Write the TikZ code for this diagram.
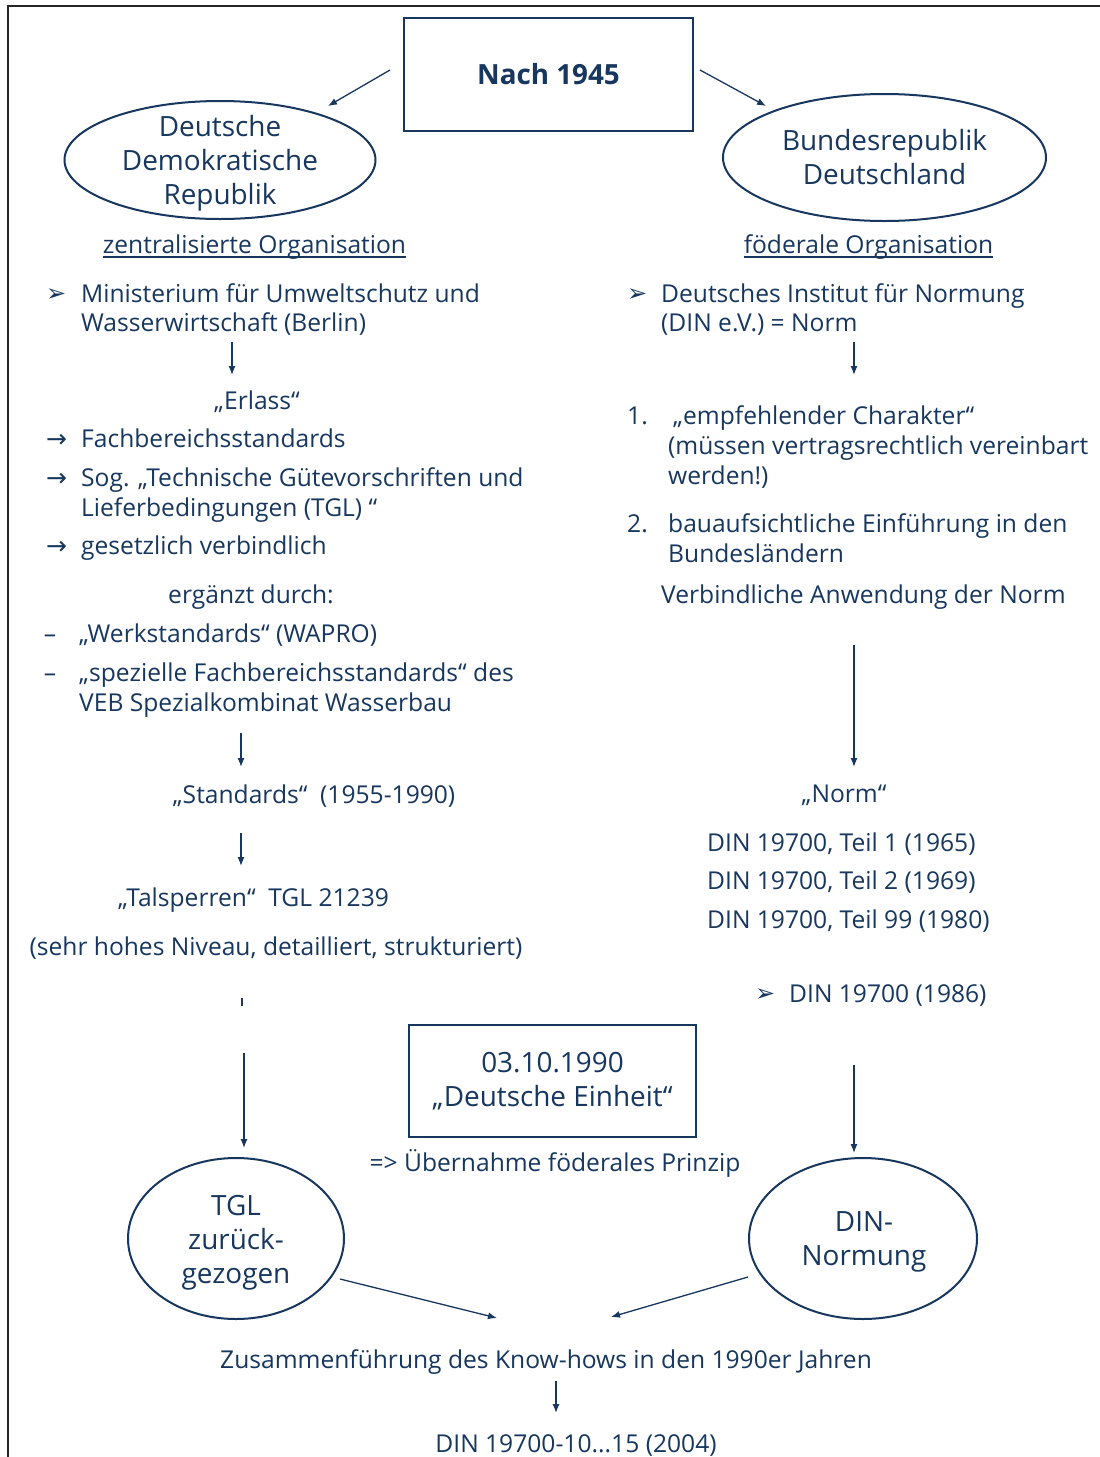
\documentclass[tikz,border=0pt]{standalone}
\usepackage{fontspec}
\setmainfont{Open Sans}
\newfontfamily\symfont{DejaVu Sans}
\usetikzlibrary{arrows.meta,shapes.geometric}
\definecolor{navy}{RGB}{23,55,94}
\tikzset{
  txt/.style={inner sep=0pt, text=navy, font=\fontsize{24.6}{29.5}\selectfont, anchor=base west},
  ctxt/.style={txt, anchor=base},
  big/.style={inner sep=0pt, text=navy, font=\fontsize{27.9}{34}\selectfont, align=center},
  arr/.style={draw=navy, line width=1.3pt, -{Latex[length=9pt,width=7pt]}},
  oval/.style={ellipse, draw=navy, line width=2pt, inner sep=0pt},
  boxx/.style={draw=navy, line width=2pt, inner sep=0pt, text=navy, align=center},
  bul/.style={inner sep=0pt, text=navy, anchor=base west, font=\symfont\fontsize{24}{26}\selectfont},
  rarr/.style={inner sep=0pt, text=navy, anchor=base west, font=\symfont\fontsize{25}{26}\selectfont},
  uline/.style={draw=navy, line width=1.3pt},
}
\begin{document}
\begin{tikzpicture}[x=1pt, y=-1pt]
\useasboundingbox (0,0) rectangle (1100,1457);
\fill[white] (0,0) rectangle (1100,1457);
% frame
\draw[black!85, line width=1.5pt] (8,1457) -- (8,6) -- (1100,6);

% top box
\node[boxx, minimum width=289, minimum height=113, font=\bfseries\fontsize{27.8}{34}\selectfont] (nach) at (548.5,74.5) {Nach 1945};

% ellipses top
\node[oval, minimum width=311, minimum height=118] (ddr) at (220,160) {};
\node[big] (ddrt) at (220,163) {Deutsche\\Demokratische\\Republik};
\node[oval, minimum width=323, minimum height=127] (brd) at (884.5,157.5) {};
\node[big] (brdt) at (884.5,157) {Bundesrepublik\\Deutschland};

\coordinate (n1) at (390,70); \coordinate (n2) at (328,106);
\coordinate (n3) at (700,70); \coordinate (n4) at (766,106);
\draw[arr] (n1) -- (n2);
\draw[arr] (n3) -- (n4);

% underlined headings
\node[ctxt] (zent) at (254.5,253) {zentralisierte Organisation};
\draw[uline] ([yshift=-4pt]zent.base west) -- ([yshift=-4pt]zent.base east);
\node[ctxt] (foed) at (868.5,253) {föderale Organisation};
\draw[uline] ([yshift=-4pt]foed.base west) -- ([yshift=-4pt]foed.base east);

% ---------- left column
\node[bul] (bl1) at (46,301) {➢};
\node[txt] (m1) at (81,302) {Ministerium für Umweltschutz und};
\node[txt] (m2) at (81,331) {Wasserwirtschaft (Berlin)};
\coordinate (la1) at (232,342); \coordinate (la2) at (232,375);
\draw[arr] (la1) -- (la2);
\node[ctxt] (erl) at (257,409) {„Erlass“};
\node[rarr] (r1) at (46,447) {→};
\node[txt] (fb) at (81,447) {Fachbereichsstandards};
\node[rarr] (r2) at (46,486) {→};
\node[txt] (sog1) at (81,486) {Sog. „Technische Gütevorschriften und};
\node[txt] (sog2) at (81,516) {Lieferbedingungen (TGL) “};
\node[rarr] (r3) at (46,554) {→};
\node[txt] (ges) at (81,554) {gesetzlich verbindlich};
\node[ctxt] (erg) at (251,603) {ergänzt durch:};
\node[ctxt] (d1) at (50,642) {–};
\node[txt] (wap) at (79,642) {„Werkstandards“ (WAPRO)};
\node[ctxt] (d2) at (50,681) {–};
\node[txt] (sp1) at (79,681) {„spezielle Fachbereichsstandards“ des};
\node[txt] (sp2) at (79,711) {VEB Spezialkombinat Wasserbau};
\coordinate (lb1) at (241,733); \coordinate (lb2) at (241,767);
\draw[arr] (lb1) -- (lb2);
\node[ctxt] (std) at (314,803) {„Standards“\ \ (1955-1990)};
\coordinate (lc1) at (241,833); \coordinate (lc2) at (241,866);
\draw[arr] (lc1) -- (lc2);
\node[ctxt] (tal) at (253.5,906) {„Talsperren“\ \ TGL 21239};
\node[ctxt] (seh) at (276,955) {(sehr hohes Niveau, detailliert, strukturiert)};
\coordinate (tk1) at (242,998); \coordinate (tk2) at (242,1006);
\draw[navy, line width=1.3pt] (tk1) -- (tk2);
\coordinate (ld1) at (244,1053); \coordinate (ld2) at (244,1148);
\draw[arr] (ld1) -- (ld2);
\node[oval, minimum width=216, minimum height=161] (tgl) at (236,1238.5) {};
\node[big] (tglt) at (236,1243) {TGL\\zurück-\\gezogen};

% ---------- right column
\node[bul] (br1) at (627,301) {➢};
\node[txt] (di1) at (661,302) {Deutsches Institut für Normung};
\node[txt] (di2) at (661,331) {(DIN e.V.) = Norm};
\coordinate (ra1) at (854,342); \coordinate (ra2) at (854,375);
\draw[arr] (ra1) -- (ra2);
\node[txt] (n1l) at (627,424) {1.};
\node[txt] (e1) at (673,424) {„empfehlender Charakter“};
\node[txt] (e2) at (668,454) {(müssen vertragsrechtlich vereinbart};
\node[txt] (e3) at (668,484) {werden!)};
\node[txt] (n2l) at (627,532) {2.};
\node[txt] (ba1) at (668,532) {bauaufsichtliche Einführung in den};
\node[txt] (ba2) at (668,562) {Bundesländern};
\node[txt] (verb) at (661,603) {Verbindliche Anwendung der Norm};
\coordinate (rb1) at (854,645); \coordinate (rb2) at (854,767);
\draw[arr] (rb1) -- (rb2);
\node[ctxt] (norm) at (844,802) {„Norm“};
\node[txt] (dn1) at (707,851) {DIN 19700, Teil 1 (1965)};
\node[txt] (dn2) at (707,889) {DIN 19700, Teil 2 (1969)};
\node[txt] (dn3) at (707,928) {DIN 19700, Teil 99 (1980)};
\node[bul] (br2) at (755,1001) {➢};
\node[txt] (dn86) at (789,1002) {DIN 19700 (1986)};
\coordinate (rc1) at (854,1065); \coordinate (rc2) at (854,1153);
\draw[arr] (rc1) -- (rc2);
\node[oval, minimum width=228, minimum height=161] (dinn) at (863,1238.5) {};
\node[big] (dinnt) at (864,1242) {DIN-\\Normung};

% ---------- middle
\node[boxx, minimum width=287, minimum height=112, font=\fontsize{27.9}{34}\selectfont] (einh) at (552.5,1081) {03.10.1990\\„Deutsche Einheit“};
\node[ctxt] (ueb) at (555,1171) {=> Übernahme föderales Prinzip};
\coordinate (ta1) at (340,1279); \coordinate (ta2) at (497,1318);
\draw[arr] (ta1) -- (ta2);
\coordinate (da1) at (748,1277); \coordinate (da2) at (611,1317);
\draw[arr] (da1) -- (da2);
\node[ctxt] (zus) at (546,1368) {Zusammenführung des Know-hows in den 1990er Jahren};
\coordinate (za1) at (556,1381); \coordinate (za2) at (556,1413);
\draw[arr] (za1) -- (za2);
\node[ctxt] (din04) at (576,1452) {DIN 19700-10...15 (2004)};
\end{tikzpicture}
\end{document}
